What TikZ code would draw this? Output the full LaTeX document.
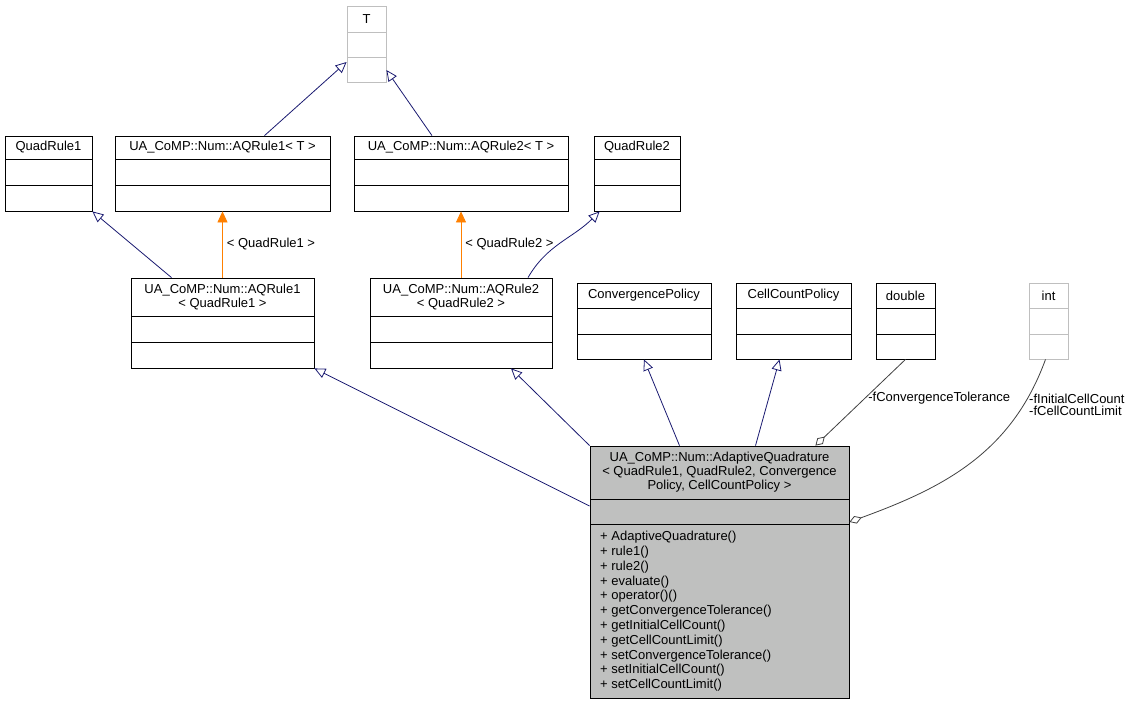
\documentclass[tikz,border=0pt]{standalone}
\usepackage{fontspec}
\setmainfont{Liberation Sans}
\usetikzlibrary{arrows.meta, positioning, shapes.multipart}

\definecolor{edgeblue}{HTML}{191970}
\definecolor{boxgray}{HTML}{BFBFBF}
\definecolor{maingray}{HTML}{BFC0BF}
\definecolor{aggrgray}{HTML}{404040}

% box with three compartments: [style] name, left, top, right, bottom, line1, line2, title
\newcommand\umlclass[9][draw=black]{%
  \node[umlbox, #1, minimum width={(#5-#3)*1pt}, minimum height={(#6-#4)*1pt}]
    (#2) at ({(#3+#5)/2},{(#4+#6)/2}) {};
  \draw[#1, fill=none] (#3,#7) -- (#5,#7) (#3,#8) -- (#5,#8);
  \node[umltitle] (#2-title) at ({(#3+#5)/2},{(#4+#7)/2}) {#9};
}

\begin{document}
\begin{tikzpicture}[x=1pt, y=-1pt,
    umlbox/.style={rectangle, inner sep=0pt, line width=0.8pt},
    umltitle/.style={align=center, inner sep=0pt, font=\fontsize{13}{14}\selectfont},
    inherit/.style={-{Triangle[open, length=11pt, width=10pt]}, edgeblue, line width=0.8pt},
    template/.style={-{Triangle[length=11pt, width=10pt]}, orange, line width=0.8pt},
    aggr/.style={-{Diamond[open, length=13pt, width=8pt]}, aggrgray, line width=0.8pt},
    elabel/.style={font=\fontsize{13}{14}\selectfont, inner sep=1pt, text=black}
]
\useasboundingbox (0,0) rectangle (1129,704);

% template parameter layer
\umlclass[draw=boxgray]{T}{347}{6}{386}{82}{32}{57}{T}

% template classes layer
\umlclass{qrone}{5}{136}{92}{211}{159}{185}{QuadRule1}
\umlclass{aqoneT}{115}{136}{330}{211}{159}{185}{UA\_CoMP::Num::AQRule1< T >}
\umlclass{aqtwoT}{354}{136}{568}{211}{159}{185}{UA\_CoMP::Num::AQRule2< T >}
\umlclass{qrtwo}{594}{136}{680}{211}{159}{185}{QuadRule2}

% instantiated rules
\umlclass{aqone}{131}{278}{314}{368}{316}{342}{UA\_CoMP::Num::AQRule1\\< QuadRule1 >}
\umlclass{aqtwo}{370}{278}{552}{368}{316}{342}{UA\_CoMP::Num::AQRule2\\< QuadRule2 >}

% policies and members
\umlclass{conv}{577}{283}{711}{359}{308}{334}{ConvergencePolicy}
\umlclass{cell}{736}{283}{851}{359}{308}{334}{CellCountPolicy}
\umlclass{dbl}{876}{283}{935}{359}{308}{334}{double}
\umlclass[draw=boxgray]{int}{1029}{283}{1068}{359}{308}{334}{int}

% main class
\umlclass[draw=black, fill=maingray]{main}{590}{446}{849}{698}{499}{524}{UA\_CoMP::Num::AdaptiveQuadrature\\< QuadRule1, QuadRule2, Convergence\\Policy, CellCountPolicy >}
\node[anchor=north west, align=left, inner sep=0pt, font=\fontsize{13}{14.8}\selectfont]
  (members) at (600,531) {+ AdaptiveQuadrature()\\+ rule1()\\+ rule2()\\+ evaluate()\\+ operator()()\\+ getConvergenceTolerance()\\+ getInitialCellCount()\\+ getCellCountLimit()\\+ setConvergenceTolerance()\\+ setInitialCellCount()\\+ setCellCountLimit()};

% inheritance from T
\draw[inherit] ([xshift=42pt]aqoneT.north) -- ([yshift=-18pt]T.west);
\draw[inherit] ([xshift=-29pt]aqtwoT.north) -- ([yshift=-26pt]T.east);

% template instantiations
\draw[template] (aqone.north -| aqoneT.south) -- (aqoneT.south) node[elabel, midway, right=3pt] {< QuadRule1 >};
\draw[template] (aqtwo.north -| aqtwoT.south) -- (aqtwoT.south) node[elabel, midway, right=3pt] {< QuadRule2 >};
\draw[inherit] ([xshift=-51pt]aqone.north) -- (qrone.south east);
\draw[inherit] ([xshift=67pt]aqtwo.north) to[out=60, in=-135] ([xshift=6pt]qrtwo.south west);

% inheritance to main
\draw[inherit] ([yshift=66pt]main.west) -- (aqone.south east);
\draw[inherit] (main.north west) -- ([xshift=50pt]aqtwo.south);
\draw[inherit] ([xshift=-40pt]main.north) -- (conv.south);
\draw[inherit] ([xshift=36pt]main.north) -- ([xshift=-14pt]cell.south);

% aggregations
\draw[aggr] (dbl.south) -- ([xshift=-34pt]main.north east) node[elabel, pos=0.45, right=2pt] {-fConvergenceTolerance};
\draw[aggr] ([xshift=-3pt]int.south) to[out=-110, in=20] ([yshift=50pt]main.east);
\node[elabel, anchor=west, align=left, font=\fontsize{13}{12}\selectfont] (intlabel) at (1028,405) {-fInitialCellCount\\-fCellCountLimit};
\end{tikzpicture}
\end{document}
